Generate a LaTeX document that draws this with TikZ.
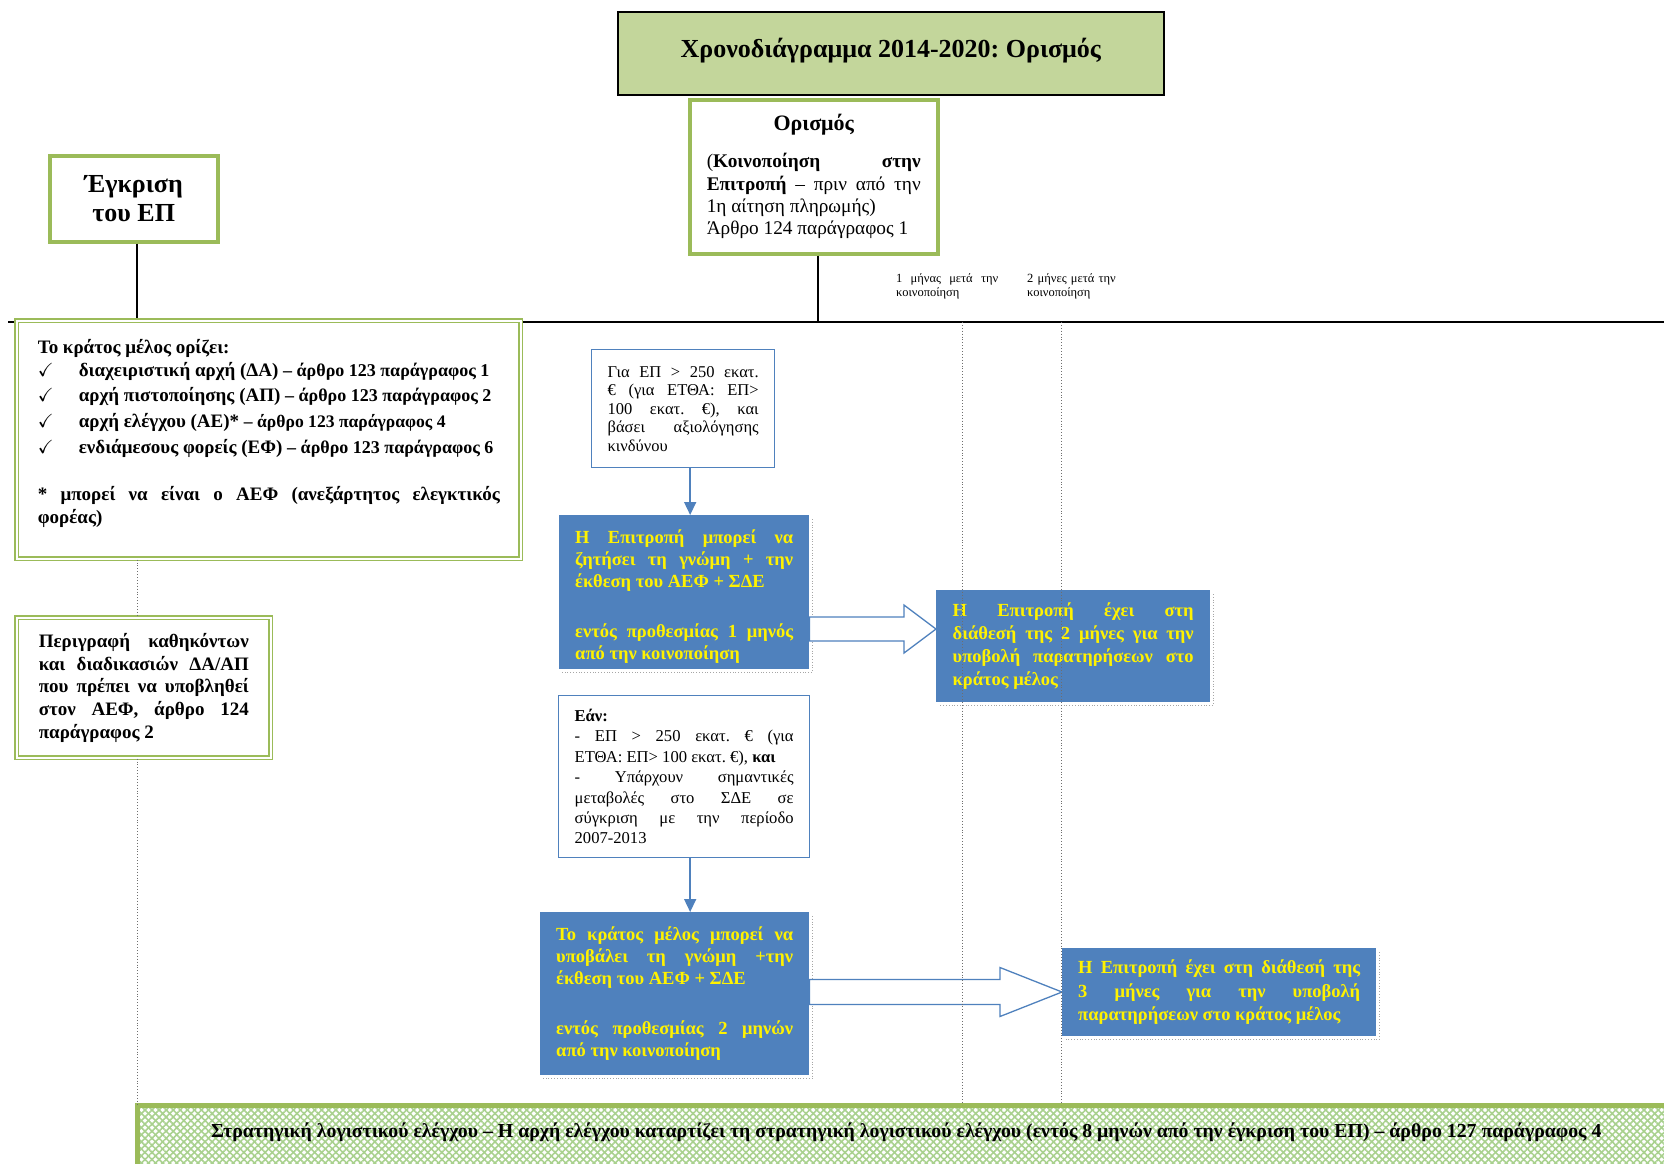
\documentclass[tikz,border=0pt]{standalone}
\usepackage{amssymb}
\usepackage{fontspec}
\setmainfont{Liberation Serif}
\usepackage{tikz}
\usetikzlibrary{positioning,calc,arrows.meta,patterns.meta}
\frenchspacing

\definecolor{olivegreen}{HTML}{9BBB59}
\definecolor{titlegreen}{HTML}{C3D69B}
\definecolor{stepblue}{HTML}{4F81BD}
\definecolor{hatchgreen}{HTML}{A9D18E}
\definecolor{guidegray}{HTML}{6E6E6E}

\newcommand{\fs}[2]{\fontsize{#1}{#2}\selectfont}
\newcommand{\tick}{\makebox[41pt][l]{$\checkmark$}}
\newcommand{\art}{\fs{18}{25.8}}
% dotted edge right and below a blue box
\newcommand{\dropedge}[1]{\draw[shadowline] ($(#1.north east)+(3,4)$) -- ($(#1.south east)+(3,3)$) -- ($(#1.south west)+(3,3)$);}
% outlined block arrow: from, to, shaft half, head half, head length
\newcommand{\fatarrow}[5]{\draw[fatarrow] ($(#1)+(0,-#3)$) -- ($(#2)+(-#5,-#3)$) -- ($(#2)+(-#5,-#4)$) -- (#2) -- ($(#2)+(-#5,#4)$) -- ($(#2)+(-#5,#3)$) -- ($(#1)+(0,#3)$) -- cycle;}

\begin{document}
\begin{tikzpicture}[x=1pt, y=-1pt,
  titlebox/.style={draw=black, line width=1.5pt, fill=titlegreen, inner sep=0pt, anchor=north west},
  greenframe/.style={draw=olivegreen, line width=3.5pt, fill=white, inner sep=0pt, anchor=north west},
  doubleframe/.style={draw=olivegreen, double=white, double distance=2pt, line width=1.6pt, fill=white, inner sep=0pt, anchor=north west},
  notebox/.style={draw=stepblue, line width=1.3pt, fill=white, inner sep=0pt, anchor=north west, align=justify},
  bluestep/.style={fill=stepblue, text=yellow, inner sep=0pt, anchor=north west, align=justify},
  guide/.style={guidegray, dotted, line width=0.9pt},
  shadowline/.style={gray!70, dotted, line width=0.8pt},
  fatarrow/.style={draw=stepblue, line width=1.3pt, fill=white, line join=miter},
  flowarrow/.style={stepblue, line width=1.5pt, -{Triangle[width=12pt,length=13pt]}}
]
\useasboundingbox (0,0) rectangle (1664,1163);

% timeline
\coordinate (t0) at (8,322);
\coordinate (t1) at (1664,322);
\coordinate (axL) at (137,322);
\coordinate (axM) at (818,322);
\coordinate (mon1) at (962,322);
\coordinate (mon2) at (1061,322);
\draw[line width=1.3pt] (t0) -- (t1);

\node[titlebox, minimum width=546pt, minimum height=83pt] (title) at (617,11)
  {\fs{26}{30}\bfseries Χρονοδιάγραμμα 2014-2020: Ορισμός\rule[-10pt]{0pt}{1pt}};

\node[greenframe, minimum width=248pt, minimum height=154pt, text width=214pt, align=justify, font=\fs{19.3}{22.4}] (orismos) at (688,98)
  {{\centering\fs{22}{24}\bfseries Ορισμός\par}\vspace{14.6pt}
   (\textbf{Κοινοποίηση στην}\linebreak \textbf{Επιτροπή} – πριν από την\linebreak 1η αίτηση πληρωμής)\\
   Άρθρο 124 παράγραφος 1};

\node[greenframe, minimum width=168pt, minimum height=86pt, align=center, font=\fs{26}{29.7}\bfseries] (egkrisi) at (48,154)
  {Έγκριση\\του ΕΠ};

\draw[line width=1.3pt] (egkrisi.south -| axL) -- (axL);
\draw[line width=1.3pt] (orismos.south -| axM) -- (axM);

\node[doubleframe, minimum width=504pt, minimum height=238pt, text width=462pt, align=justify, font=\fs{19}{25.8}\bfseries] (kratos) at (16,320)
  {Το κράτος μέλος ορίζει:\\[-3pt]
   \tick διαχειριστική αρχή (ΔΑ) {\art– άρθρο 123 παράγραφος 1}\\
   \tick αρχή πιστοποίησης (ΑΠ) {\art– άρθρο 123 παράγραφος 2}\\
   \tick αρχή ελέγχου (ΑΕ)* {\fs{17.6}{25.8}– άρθρο 123 παράγραφος 4}\\
   \tick ενδιάμεσους φορείς (ΕΦ) {\art– άρθρο 123 παράγραφος 6}\par
   \vspace{23.4pt}
   {\fs{19}{23.3}* μπορεί να είναι ο ΑΕΦ (ανεξάρτητος ελεγκτικός\linebreak φορέας)\rule[-17pt]{0pt}{1pt}\par}};

\node[doubleframe, minimum width=254pt, minimum height=140pt, text width=210pt, align=justify, font=\fs{19}{22.6}\bfseries] (perigrafi) at (16,617)
  {Περιγραφή καθηκόντων\linebreak και διαδικασιών ΔΑ/ΑΠ\linebreak που πρέπει να υποβληθεί\linebreak στον ΑΕΦ, άρθρο 124\linebreak παράγραφος 2};

\node[notebox, minimum width=183pt, minimum height=118pt, text width=151pt, font=\fs{16.5}{18.5}] (gia) at (591,349)
  {Για ΕΠ > 250 εκατ.\linebreak € (για ΕΤΘΑ: ΕΠ>\linebreak 100 εκατ. €), και\linebreak βάσει αξιολόγησης\linebreak κινδύνου};

\node[bluestep, minimum width=250pt, minimum height=154pt, text width=218pt, font=\fs{18.5}{22}\bfseries] (ask) at (559,515)
  {\rule{0pt}{22.5pt}Η Επιτροπή μπορεί να\linebreak ζητήσει τη γνώμη + την\linebreak έκθεση του ΑΕΦ + ΣΔΕ\\[28pt]
   εντός προθεσμίας 1 μηνός\linebreak από την κοινοποίηση};

\node[bluestep, minimum width=274pt, minimum height=112pt, text width=241pt, font=\fs{18.5}{23}\bfseries] (twomonths) at (936,590)
  {Η Επιτροπή έχει στη\linebreak διάθεσή της 2 μήνες για την\linebreak υποβολή παρατηρήσεων στο\linebreak κράτος μέλος};

\node[notebox, minimum width=251pt, minimum height=162pt, text width=219pt, font=\fs{16.6}{20.4}] (ean) at (558,695)
  {\textbf{Εάν:}\\
   - ΕΠ > 250 εκατ. € (για\linebreak ΕΤΘΑ: ΕΠ> 100 εκατ. €),~\textbf{και}\\
   - Υπάρχουν σημαντικές\linebreak μεταβολές στο ΣΔΕ σε\linebreak σύγκριση με την περίοδο\linebreak 2007-2013};

\node[bluestep, minimum width=269pt, minimum height=163pt, text width=237pt, font=\fs{18.5}{22}\bfseries] (submit) at (540,912)
  {Το κράτος μέλος μπορεί να\linebreak υποβάλει τη γνώμη +την\linebreak έκθεση του ΑΕΦ + ΣΔΕ\\[28pt]
   εντός προθεσμίας 2 μηνών\linebreak από την κοινοποίηση};

\node[bluestep, minimum width=314pt, minimum height=88pt, text width=282pt, font=\fs{18.5}{23.5}\bfseries] (threemonths) at (1062,948)
  {Η Επιτροπή έχει στη διάθεσή της\linebreak 3 μήνες για την υποβολή\linebreak παρατηρήσεων στο κράτος μέλος};

\dropedge{ask}
\dropedge{twomonths}
\dropedge{submit}
\dropedge{threemonths}

% arrows
\draw[flowarrow] ([xshift=7pt]gia.south) -- ([xshift=7pt]gia.south |- ask.north);
\draw[flowarrow] ([xshift=6pt]ean.south) -- ([xshift=6pt]ean.south |- submit.north);
\coordinate (a1) at (809,629);
\coordinate (a2) at (809,992);
\fatarrow{ask.east |- a1}{twomonths.west |- a1}{12}{24}{32}
\fatarrow{submit.east |- a2}{threemonths.west |- a2}{12.5}{24.5}{62}

% strategy band
\node[anchor=north west, inner sep=0pt, minimum width=1527pt, minimum height=60pt,
      preaction={fill=white}, pattern={Lines[angle=45,distance=5pt,line width=1.6pt]}, pattern color=hatchgreen,
      postaction={pattern={Lines[angle=-45,distance=5pt,line width=1.6pt]}, pattern color=hatchgreen}] (band) at (137,1105) {};
\node[font=\fs{19.8}{22}\bfseries] (bandtext) at ($(band.center)+(5,-4)$)
  {Στρατηγική λογιστικού ελέγχου – Η αρχή ελέγχου καταρτίζει τη στρατηγική λογιστικού ελέγχου (εντός 8 μηνών από την έγκριση του ΕΠ) – άρθρο 127 παράγραφος 4};
\draw[olivegreen, line width=5pt] (band.south west) -- (band.north west) -- (band.north east);

% month guides
\node[anchor=north west, inner sep=0pt, text width=102pt, align=justify, font=\fs{12.5}{14}] (lab1) at (896,273)
  {1 μήνας μετά την\linebreak κοινοποίηση};
\node[anchor=north west, inner sep=0pt, text width=100pt, align=left, font=\fs{12.5}{14}] (lab2) at (1027,273)
  {2 μήνες μετά την\\κοινοποίηση};
\draw[guide] (mon1) -- (mon1 |- band.north);
\draw[guide] (mon2) -- (mon2 |- band.north);
\draw[guide] (axL |- kratos.south) -- (axL |- perigrafi.north);
\draw[guide] (axL |- perigrafi.south) -- (axL |- band.north);
\end{tikzpicture}
\end{document}
